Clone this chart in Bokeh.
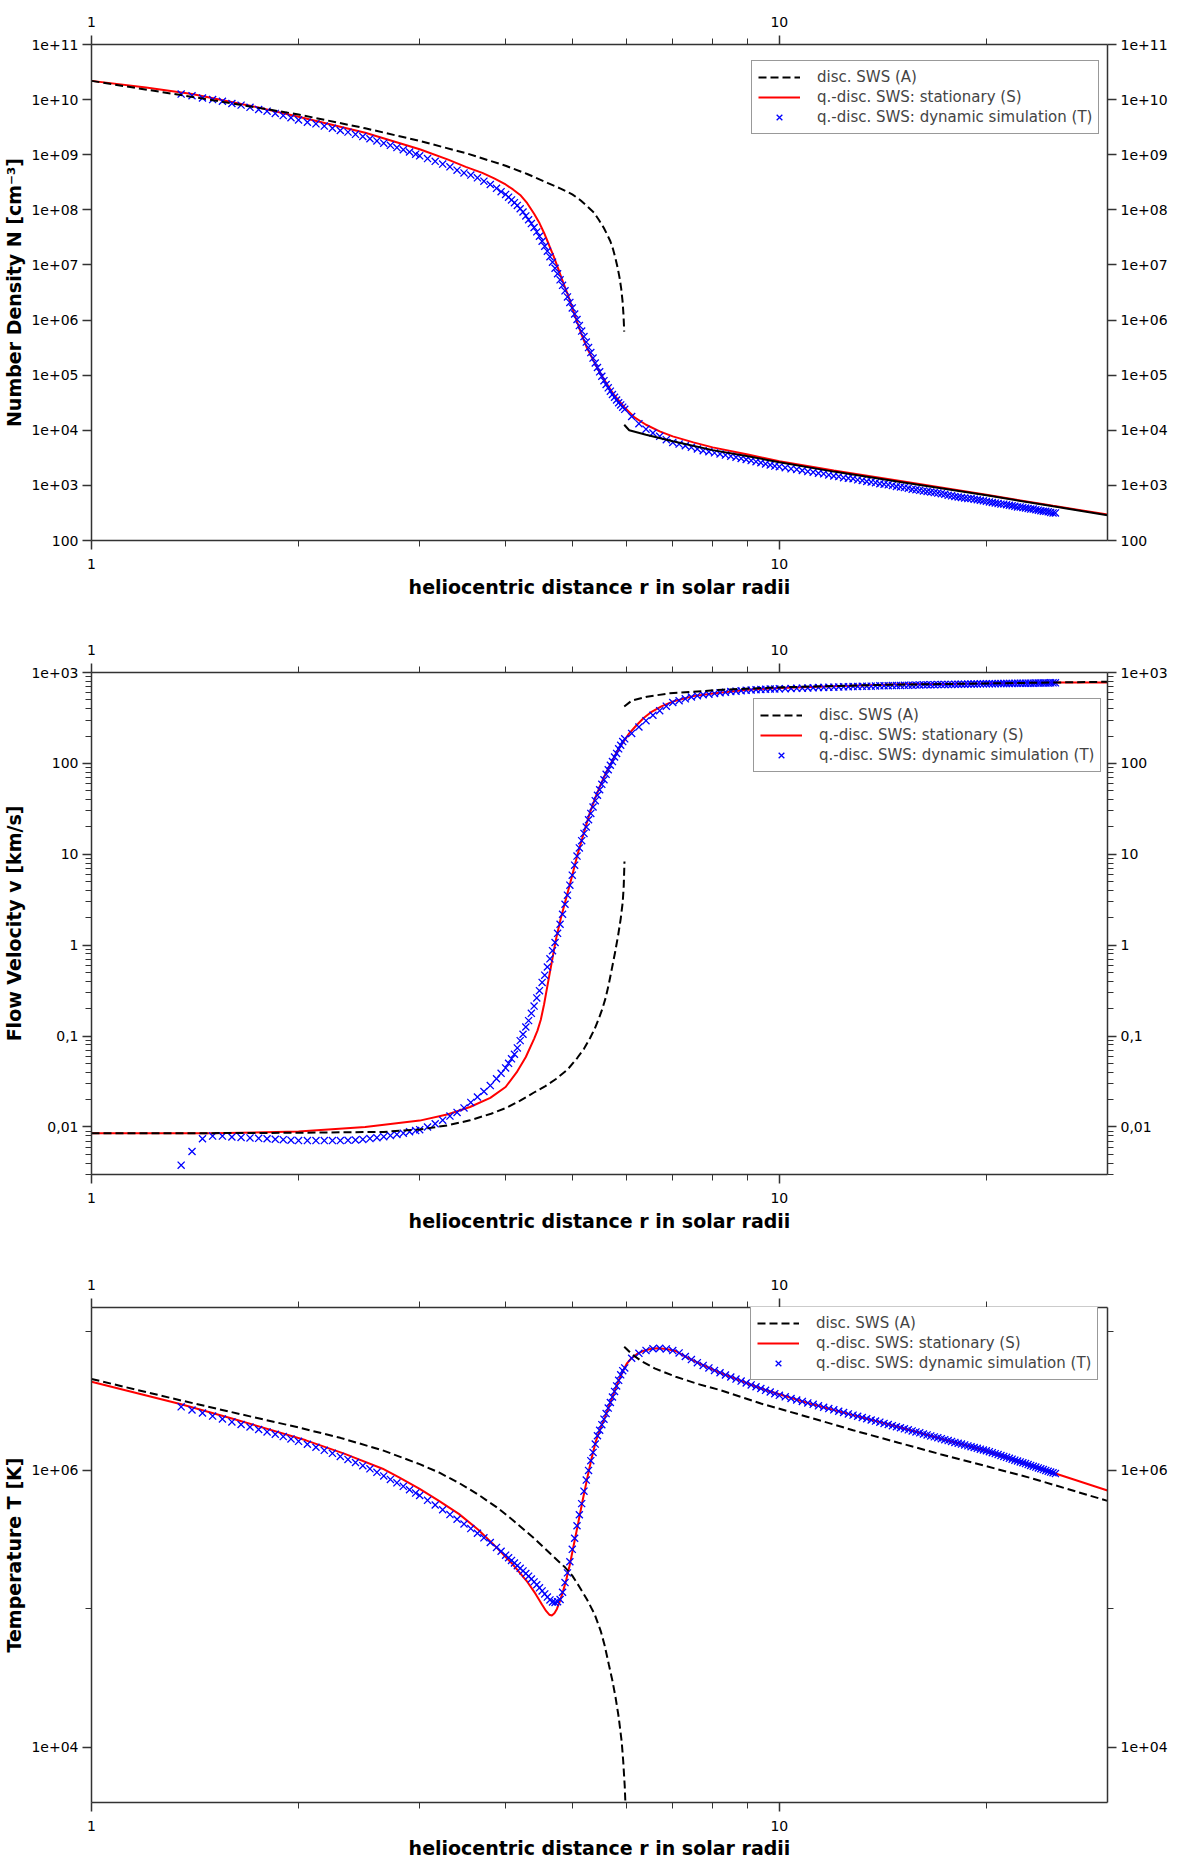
from bokeh.embed import file_html
from bokeh.layouts import column
from bokeh.models import FixedTicker, Legend, LegendItem, LogAxis, Range1d
from bokeh.plotting import figure
from bokeh.resources import INLINE

legend_labels = ["disc. SWS (A)", "q.-disc. SWS: stationary (S)",
                 "q.-disc. SWS: dynamic simulation (T)"]
x_label = "heliocentric distance r in solar radii"
x_ticks = [1, 10]
x_tick_labels = ["1", "10"]
x_minor = [2, 3, 4, 5, 6, 7, 8, 9, 20]

# ---- dynamic simulation points (T), shared radii -------------------------
r_sim = [
    1.35, 1.40, 1.45, 1.50, 1.55, 1.60, 1.65, 1.70, 1.75, 1.80, 1.85, 1.90, 1.95,
    2.00, 2.06, 2.12, 2.18, 2.24, 2.30, 2.36, 2.42, 2.48, 2.54, 2.60, 2.66, 2.72,
    2.78, 2.84, 2.90, 2.96,
    3.00, 3.08, 3.16, 3.24, 3.32, 3.40, 3.48, 3.56, 3.64, 3.72, 3.80, 3.88, 3.94,
    4.00, 4.04, 4.08, 4.12, 4.16, 4.20, 4.24, 4.28, 4.32, 4.36,
    4.40, 4.44, 4.48, 4.52, 4.56, 4.60, 4.64, 4.68, 4.72, 4.76,
    4.80, 4.84, 4.88, 4.92, 4.96, 5.00, 5.04, 5.08, 5.12, 5.16,
    5.20, 5.24, 5.28, 5.32, 5.36, 5.40, 5.44, 5.48, 5.52, 5.56,
    5.60, 5.64, 5.68, 5.72, 5.76, 5.80, 5.84, 5.88, 5.92, 5.96,
    6.10, 6.25, 6.40, 6.55, 6.70, 6.85, 7.00, 7.15, 7.30, 7.45, 7.60, 7.75, 7.90,
    8.05, 8.20, 8.35, 8.50, 8.65, 8.80, 8.95, 9.10, 9.25, 9.40, 9.55, 9.70, 9.85,
    10.0, 10.2, 10.4, 10.6, 10.8, 11.0, 11.2, 11.4, 11.6, 11.8,
    12.0, 12.2, 12.4, 12.6, 12.8, 13.0, 13.2, 13.4, 13.6, 13.8,
    14.0, 14.2, 14.4, 14.6, 14.8, 15.0, 15.2, 15.4, 15.6, 15.8,
    16.0, 16.2, 16.4, 16.6, 16.8, 17.0, 17.2, 17.4, 17.6, 17.8,
    18.0, 18.2, 18.4, 18.6, 18.8, 19.0, 19.2, 19.4, 19.6, 19.8,
    20.0, 20.2, 20.4, 20.6, 20.8, 21.0, 21.2, 21.4, 21.6, 21.8,
    22.0, 22.2, 22.4, 22.6, 22.8, 23.0, 23.2, 23.4, 23.6, 23.8,
    24.0, 24.2, 24.4, 24.6, 24.8, 25.0, 25.2,
]

density_sim = [
    10.10, 10.07, 10.03, 10.00, 9.97, 9.93, 9.90, 9.86, 9.82, 9.79, 9.75, 9.71, 9.67,
    9.63, 9.59, 9.56, 9.52, 9.48, 9.44, 9.41, 9.37, 9.33, 9.29, 9.25, 9.21, 9.17,
    9.13, 9.09, 9.05, 9.01,
    8.98, 8.93, 8.88, 8.83, 8.78, 8.72, 8.67, 8.63, 8.58, 8.52, 8.46, 8.39, 8.33,
    8.28, 8.23, 8.18, 8.13, 8.08, 8.02, 7.96, 7.89, 7.82, 7.75,
    7.68, 7.60, 7.52, 7.43, 7.34, 7.25, 7.15, 7.05, 6.94, 6.84,
    6.73, 6.63, 6.53, 6.42, 6.32, 6.22, 6.11, 6.01, 5.90, 5.80,
    5.70, 5.60, 5.50, 5.41, 5.31, 5.22, 5.14, 5.06, 4.98, 4.90,
    4.83, 4.77, 4.71, 4.65, 4.60, 4.55, 4.50, 4.46, 4.42, 4.38,
    4.25, 4.12, 4.02, 3.95, 3.89, 3.83, 3.78, 3.75, 3.72, 3.69, 3.66, 3.63, 3.61,
    3.59, 3.57, 3.55, 3.53, 3.51, 3.49, 3.47, 3.45, 3.43, 3.41, 3.39, 3.37, 3.35,
    3.34, 3.32, 3.30, 3.29, 3.27, 3.25, 3.24, 3.22, 3.21, 3.19,
    3.17, 3.16, 3.14, 3.13, 3.12, 3.10, 3.09, 3.07, 3.06, 3.05,
    3.03, 3.02, 3.01, 3.00, 2.98, 2.97, 2.96, 2.95, 2.93, 2.92,
    2.91, 2.90, 2.89, 2.88, 2.87, 2.86, 2.85, 2.84, 2.82, 2.81,
    2.80, 2.79, 2.78, 2.77, 2.76, 2.76, 2.75, 2.74, 2.73, 2.72,
    2.71, 2.70, 2.69, 2.68, 2.67, 2.66, 2.66, 2.65, 2.64, 2.63,
    2.62, 2.61, 2.61, 2.60, 2.59, 2.58, 2.57, 2.57, 2.56, 2.55,
    2.54, 2.53, 2.53, 2.52, 2.51, 2.50, 2.50,
]

velocity_sim = [
    -2.42, -2.27, -2.13, -2.10, -2.10, -2.11, -2.115, -2.12, -2.125, -2.13, -2.135,
    -2.14, -2.145,
    -2.15, -2.15, -2.15, -2.15, -2.15, -2.15, -2.147, -2.143, -2.137, -2.128, -2.118,
    -2.107, -2.095, -2.082, -2.068, -2.053, -2.04,
    -2.03, -2.00, -1.965, -1.925, -1.88, -1.84, -1.79, -1.73, -1.67, -1.61, -1.545,
    -1.47, -1.41,
    -1.35, -1.30, -1.25, -1.20, -1.13, -1.05, -0.98, -0.90, -0.83, -0.75,
    -0.67, -0.58, -0.50, -0.41, -0.33, -0.24, -0.15, -0.06, 0.03, 0.13,
    0.23, 0.34, 0.45, 0.55, 0.66, 0.77, 0.88, 0.98, 1.07, 1.15,
    1.23, 1.30, 1.38, 1.45, 1.52, 1.59, 1.65, 1.71, 1.77, 1.82,
    1.88, 1.93, 1.98, 2.02, 2.07, 2.11, 2.16, 2.20, 2.24, 2.27,
    2.33, 2.40, 2.47, 2.53, 2.58, 2.63, 2.67, 2.69, 2.71, 2.73, 2.745, 2.755, 2.762,
    2.77, 2.777, 2.783, 2.79, 2.795, 2.80, 2.804, 2.808, 2.811, 2.814, 2.816, 2.818,
    2.819,
    2.820, 2.822, 2.824, 2.826, 2.828, 2.830, 2.832, 2.834, 2.836, 2.837,
    2.839, 2.840, 2.842, 2.843, 2.845, 2.846, 2.848, 2.849, 2.850, 2.851,
    2.853, 2.854, 2.855, 2.856, 2.857, 2.858, 2.859, 2.860, 2.861, 2.862,
    2.863, 2.864, 2.865, 2.865, 2.866, 2.867, 2.867, 2.868, 2.869, 2.869,
    2.870, 2.871, 2.871, 2.872, 2.873, 2.873, 2.874, 2.874, 2.875, 2.875,
    2.876, 2.876, 2.877, 2.877, 2.878, 2.878, 2.879, 2.879, 2.880, 2.880,
    2.881, 2.881, 2.881, 2.882, 2.882, 2.883, 2.883, 2.883, 2.884, 2.884,
    2.884, 2.885, 2.885, 2.885, 2.886, 2.886, 2.886,
]

temperature_sim = [
    6.459, 6.436, 6.414, 6.392, 6.371, 6.350, 6.331, 6.313, 6.295, 6.278, 6.261,
    6.244, 6.227,
    6.210, 6.189, 6.167, 6.145, 6.123, 6.101, 6.079, 6.057, 6.034, 6.011, 5.986,
    5.960, 5.935, 5.910, 5.885, 5.860, 5.836,
    5.819, 5.784, 5.750, 5.716, 5.681, 5.647, 5.613, 5.580, 5.546, 5.513, 5.479,
    5.444, 5.416,
    5.388, 5.369, 5.350, 5.331, 5.312, 5.293, 5.274, 5.255, 5.236, 5.216,
    5.195, 5.174, 5.152, 5.130, 5.108, 5.085, 5.065, 5.050, 5.046, 5.052,
    5.068, 5.12, 5.19, 5.26, 5.34, 5.43, 5.51, 5.60, 5.68, 5.76,
    5.85, 5.93, 6.00, 6.07, 6.13, 6.19, 6.25, 6.29, 6.33, 6.37,
    6.41, 6.45, 6.49, 6.53, 6.57, 6.61, 6.65, 6.69, 6.72, 6.74,
    6.81, 6.845, 6.866, 6.878, 6.882, 6.877, 6.865, 6.848, 6.822, 6.800, 6.778,
    6.758, 6.740, 6.722, 6.705, 6.689, 6.674, 6.659, 6.645, 6.631, 6.617, 6.604,
    6.591, 6.578, 6.566, 6.554,
    6.542, 6.531, 6.519, 6.508, 6.498, 6.487, 6.477, 6.466, 6.456, 6.446,
    6.437, 6.427, 6.418, 6.408, 6.399, 6.391, 6.382, 6.373, 6.364, 6.356,
    6.348, 6.339, 6.331, 6.323, 6.315, 6.308, 6.300, 6.293, 6.285, 6.278,
    6.271, 6.263, 6.256, 6.249, 6.242, 6.236, 6.229, 6.222, 6.215, 6.209,
    6.202, 6.196, 6.190, 6.184, 6.177, 6.171, 6.165, 6.159, 6.153, 6.147,
    6.142, 6.135, 6.128, 6.121, 6.114, 6.107, 6.101, 6.094, 6.087, 6.081,
    6.074, 6.068, 6.061, 6.055, 6.049, 6.042, 6.036, 6.030, 6.024, 6.018,
    6.012, 6.006, 6.000, 5.994, 5.988, 5.983, 5.977,
]

# ---- stationary solution (S) ---------------------------------------------
r_stat_n = [1.0, 1.2, 1.4, 1.7, 2.0, 2.5, 3.0, 3.3, 3.5, 3.7, 3.85, 4.0, 4.1, 4.2,
            4.3, 4.4, 4.48, 4.55, 4.62, 4.7, 4.78, 4.85, 4.93, 5.0, 5.08, 5.15, 5.25,
            5.4, 5.5, 5.6, 5.75, 5.95, 6.15, 6.4, 6.7, 7.0, 7.5, 8.0, 9.0, 10, 12,
            15, 20, 25, 30]
density_stat = [10.34, 10.22, 10.10, 9.89, 9.69, 9.40, 9.10, 8.91, 8.78, 8.67, 8.57,
                8.46, 8.37, 8.27, 8.12, 7.93, 7.76, 7.58, 7.38, 7.15, 6.90, 6.68,
                6.45, 6.22, 5.97, 5.76, 5.50, 5.20, 5.02, 4.86, 4.64, 4.42, 4.24,
                4.10, 3.98, 3.89, 3.78, 3.69, 3.56, 3.44, 3.27, 3.08, 2.83, 2.63,
                2.47]

r_stat_v = [1.0, 1.5, 2.0, 2.5, 3.0, 3.3, 3.55, 3.8, 4.0, 4.15, 4.28, 4.4, 4.45, 4.5,
            4.55, 4.6, 4.66, 4.73, 4.81, 4.9, 5.0, 5.09, 5.2, 5.3, 5.4, 5.5, 5.6,
            5.7, 5.8, 5.9, 6.05, 6.2, 6.35, 6.5, 6.75, 7.0, 7.5, 8.0, 9.0, 10, 12,
            15, 20, 25, 30]
velocity_stat = [-2.07, -2.07, -2.05, -2.00, -1.93, -1.86, -1.78, -1.68, -1.56,
                 -1.40, -1.23, -1.03, -0.94, -0.82, -0.65, -0.45, -0.22, 0.05, 0.29,
                 0.52, 0.77, 1.00, 1.24, 1.45, 1.62, 1.77, 1.90, 2.01, 2.12, 2.21,
                 2.33, 2.42, 2.50, 2.56, 2.63, 2.68, 2.74, 2.77, 2.81, 2.83, 2.85,
                 2.87, 2.88, 2.89, 2.89]

r_stat_t = [1.0, 1.35, 1.6, 2.05, 2.33, 2.65, 2.8, 3.0, 3.2, 3.42, 3.65, 3.88, 4.1,
            4.29, 4.42, 4.52, 4.58, 4.63, 4.67, 4.71, 4.75, 4.8, 4.85, 4.9, 4.95,
            5.02, 5.1, 5.18, 5.25, 5.33, 5.41, 5.49, 5.575, 5.66, 5.74, 5.83, 5.916,
            6.0, 6.095, 6.23, 6.37, 6.52, 6.66, 6.85, 7.07, 7.3, 7.61, 8.2, 9.4, 11.0,
            12.8, 14.9, 17.2, 20.0, 23.2, 25.2, 30]
temperature_stat = [6.64, 6.478, 6.375, 6.217, 6.121, 6.012, 5.95, 5.867, 5.78,
                    5.686, 5.572, 5.444, 5.32, 5.203, 5.11, 5.03, 4.985, 4.958, 4.952,
                    4.968, 5.00, 5.06, 5.13, 5.21, 5.30, 5.45, 5.62, 5.79, 5.93,
                    6.08, 6.21, 6.30, 6.38, 6.47, 6.55, 6.64, 6.71, 6.77, 6.81,
                    6.845, 6.866, 6.878, 6.882, 6.877, 6.862, 6.822, 6.778, 6.705,
                    6.591, 6.487, 6.399, 6.315, 6.229, 6.142, 6.036, 5.977, 5.855]

# ---- discontinuous solution (A): inner and outer branch ------------------
r_disc_n_in = [1.0, 1.5, 2.0, 2.5, 3.0, 3.5, 4.0, 4.3, 4.6, 4.8, 5.0, 5.08, 5.144,
               5.26, 5.377, 5.47, 5.558, 5.62, 5.68, 5.73, 5.775, 5.82, 5.859, 5.89,
               5.917, 5.935, 5.95]
density_disc_in = [10.34, 9.99, 9.73, 9.48, 9.25, 9.03, 8.80, 8.65, 8.49, 8.39, 8.28,
                   8.22, 8.17, 8.06, 7.95, 7.81, 7.67, 7.55, 7.43, 7.29, 7.13, 6.95,
                   6.76, 6.57, 6.34, 6.10, 5.79]
r_disc_n_out = [5.95, 6.05, 6.4, 7.0, 8.0, 9.0, 10, 12, 15, 20, 25, 30]
density_disc_out = [4.10, 4.00, 3.92, 3.80, 3.64, 3.53, 3.42, 3.25, 3.06, 2.82, 2.62,
                    2.46]

r_disc_v_in = [1.0, 1.5, 2.0, 2.66, 3.0, 3.3, 3.55, 3.81, 4.01, 4.2, 4.405, 4.57,
               4.735, 4.92, 5.09, 5.2, 5.31, 5.39, 5.47, 5.53, 5.59, 5.65, 5.71, 5.77,
               5.83, 5.88, 5.92, 5.94, 5.955]
velocity_disc_in = [-2.07, -2.068, -2.064, -2.054, -2.028, -1.981, -1.927, -1.854,
                    -1.789, -1.71, -1.618, -1.55, -1.472, -1.37, -1.236, -1.14, -1.018,
                    -0.92, -0.80, -0.70, -0.582, -0.43, -0.255, -0.08, 0.109, 0.29,
                    0.472, 0.65, 0.92]
r_disc_v_out = [5.95, 6.1, 6.42, 6.93, 8.28, 9.93, 13.7, 20, 30]
velocity_disc_out = [2.625, 2.69, 2.734, 2.771, 2.811, 2.836, 2.862, 2.88, 2.898]

r_disc_t_in = [1.0, 1.35, 1.7, 2.0, 2.3, 2.65, 3.0, 3.2, 3.42, 3.65, 3.88, 4.1, 4.4,
               4.69, 4.88, 5.0, 5.12, 5.25, 5.39, 5.5, 5.57, 5.65, 5.72, 5.78, 5.84,
               5.90, 5.93, 5.96, 5.99]
temperature_disc_in = [6.66, 6.505, 6.39, 6.31, 6.235, 6.145, 6.045, 5.985, 5.91,
                       5.825, 5.735, 5.64, 5.51, 5.38, 5.30, 5.24, 5.16, 5.07, 4.96,
                       4.84, 4.74, 4.60, 4.48, 4.36, 4.22, 4.04, 3.90, 3.72, 3.45]
r_disc_t_out = [5.95, 6.1, 6.3, 6.6, 7.07, 7.6, 8.2, 9.4, 11.0, 12.8, 14.9, 17.2, 20.0,
                23.2, 30]
temperature_disc_out = [6.893, 6.84, 6.79, 6.735, 6.676, 6.625, 6.58, 6.483, 6.386,
                        6.29, 6.20, 6.115, 6.03, 5.945, 5.78]

# ---- y axes --------------------------------------------------------------
n_ticks = [1e2, 1e3, 1e4, 1e5, 1e6, 1e7, 1e8, 1e9, 1e10, 1e11]
n_tick_labels = ["100", "1e+03", "1e+04", "1e+05", "1e+06", "1e+07", "1e+08",
                 "1e+09", "1e+10", "1e+11"]
v_ticks = [0.01, 0.1, 1, 10, 100, 1000]
v_tick_labels = ["0,01", "0,1", "1", "10", "100", "1e+03"]
v_minor = [m * 10.0 ** e for e in range(-3, 3) for m in range(2, 10)]
t_ticks = [1e4, 1e6]
t_tick_labels = ["1e+04", "1e+06"]
t_minor = [1e5, 1e7]

AX = "#333333"
FONT = "DejaVu Sans"


def lin(logs):
    return [10.0 ** v for v in logs]


def style_axis(ax, ticks, labels, minor, standoff):
    ax.ticker = FixedTicker(ticks=ticks, minor_ticks=minor)
    ax.major_label_overrides = dict(zip(ticks, labels))
    ax.axis_line_color = AX
    ax.axis_line_width = 1.5
    ax.major_tick_line_color = AX
    ax.major_tick_line_width = 1.5
    ax.major_tick_out = 9
    ax.major_tick_in = 0
    ax.minor_tick_line_color = AX
    ax.minor_tick_line_width = 1
    ax.minor_tick_out = 6
    ax.minor_tick_in = 0
    ax.major_label_standoff = standoff
    ax.major_label_text_font = FONT
    ax.major_label_text_font_size = "14px"
    ax.major_label_text_color = "black"
    ax.axis_label_text_font = FONT
    ax.axis_label_text_font_size = "19px"
    ax.axis_label_text_font_style = "bold"
    ax.axis_label_text_color = "black"


def make_panel(height, border_top, border_bottom, y_range, y_label, y_ticks,
               y_labels, y_minor, x_standoff):
    p = figure(width=1184, height=height, x_axis_type="log", y_axis_type="log",
               x_range=Range1d(1, 30), y_range=Range1d(*y_range),
               output_backend="svg", toolbar_location=None,
               min_border_left=84, min_border_right=77, min_border_top=border_top,
               min_border_bottom=border_bottom)
    p.outline_line_color = None
    p.xgrid.visible = False
    p.ygrid.visible = False
    p.add_layout(LogAxis(), "above")
    p.add_layout(LogAxis(), "right")
    for ax in p.below + p.above:
        style_axis(ax, x_ticks, x_tick_labels, x_minor, 9)
    for ax in p.left + p.right:
        style_axis(ax, y_ticks, y_labels, y_minor, 4)
    p.below[0].axis_label = x_label
    p.below[0].axis_label_standoff = x_standoff
    p.left[0].axis_label = y_label
    p.left[0].axis_label_standoff = 3
    return p


def add_curves(p, r_stat, y_stat, y_sim, r_in, y_in, r_out, y_out, outer_dash,
               legend_xy):
    red = p.line(r_stat, lin(y_stat), line_color="#ff0000", line_width=2)
    blue = p.scatter(r_sim, lin(y_sim), marker="x", size=10, line_color="#0000ff",
                     line_width=1.3)
    black = p.line(r_in, lin(y_in), line_color="black", line_width=2,
                   line_dash="8 4")
    p.line(r_out, lin(y_out), line_color="black", line_width=2,
           line_dash=outer_dash)
    legend = Legend(
        items=[LegendItem(label=legend_labels[0], renderers=[black]),
               LegendItem(label=legend_labels[1], renderers=[red]),
               LegendItem(label=legend_labels[2], renderers=[blue])],
        location=legend_xy,
        label_text_font=FONT, label_text_font_size="15px",
        label_height=20, glyph_height=20, glyph_width=42, label_standoff=17,
        padding=6, spacing=0, margin=0,
        border_line_color=AX, border_line_width=1.5,
        background_fill_color="white", background_fill_alpha=1,
    )
    p.add_layout(legend)


p1 = make_panel(636, 44, 96, (1e2, 1e11), "Number Density N [cm\u207b\u00b3]",
                n_ticks, n_tick_labels, [], 4)
add_curves(p1, r_stat_n, density_stat, density_sim, r_disc_n_in, density_disc_in,
           r_disc_n_out, density_disc_out, "solid", (660, 406))

p2 = make_panel(635, 36, 97, (0.003, 1000), "Flow Velocity v [km/s]",
                v_ticks, v_tick_labels, v_minor, 4)
add_curves(p2, r_stat_v, velocity_stat, velocity_sim, r_disc_v_in, velocity_disc_in,
           r_disc_v_out, velocity_disc_out, "8 4", (662, 402))

p3 = make_panel(592, 36, 61, (4.0e3, 1.5e7), "Temperature T [K]",
                t_ticks, t_tick_labels, t_minor, 3)
add_curves(p3, r_stat_t, temperature_stat, temperature_sim, r_disc_t_in,
           temperature_disc_in, r_disc_t_out, temperature_disc_out, "8 4", (659, 422))

page = column(p1, p2, p3)
open("out.html", "w").write(file_html(page, INLINE))
